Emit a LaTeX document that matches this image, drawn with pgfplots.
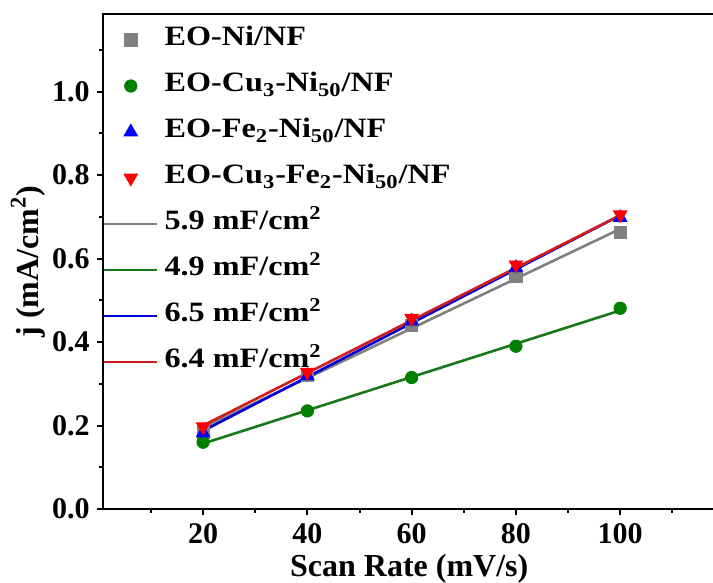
\documentclass[border=0pt]{standalone}
\usepackage{fontspec}
\setmainfont{Liberation Serif}
\newfontfamily\legfont{Liberation Serif}[FakeStretch=1.15]
\usepackage{pgfplots}
\pgfplotsset{compat=1.18}
\definecolor{cgray}{RGB}{128,128,128}
\definecolor{cgreen}{RGB}{0,128,0}
\definecolor{cgreenl}{RGB}{25,120,25}
\definecolor{cblue}{RGB}{0,0,255}
\definecolor{cbluel}{RGB}{0,0,215}
\definecolor{cred}{RGB}{255,0,0}
\definecolor{credl}{RGB}{205,30,30}
\newcommand{\tfnt}{\fontsize{15}{17}\selectfont\bfseries}
\newcommand{\lfnt}{\fontsize{16}{18}\selectfont\bfseries}
\newcommand{\gfnt}{\legfont\fontsize{14}{16}\selectfont\bfseries}
\pgfplotsset{
  lineleg/.style={legend image code/.code={\draw[##1] (0pt,0pt) -- (26.5pt,0pt);}},
  markleg/.style={legend image code/.code={\draw[##1] plot coordinates {(13.25pt,0pt)};}},
}
\begin{document}
\begin{tikzpicture}
\path[use as bounding box] (0,0) rectangle (356.5pt,291.5pt);
\begin{axis}[
  at={(51.5pt,37pt)}, anchor=south west,
  width=306.3pt, height=247.5pt, scale only axis,
  xmin=0.8, xmax=118.3, ymin=0, ymax=1.186,
  xtick={20,40,60,80,100}, minor xtick={10,30,50,70,90,110},
  ytick={0,0.2,0.4,0.6,0.8,1.0}, minor ytick={0.1,0.3,0.5,0.7,0.9,1.1},
  xtick pos=left, ytick pos=left,
  tick align=outside,
  major tick length=3.2pt, minor tick length=1.8pt,
  every tick/.style={black, line width=1pt},
  axis line style={line width=1.3pt},
  /pgf/number format/assume math mode=true,
  tick label style={font=\tfnt},
  yticklabel style={/pgf/number format/.cd, fixed, fixed zerofill, precision=1},
  xticklabel style={inner ysep=1pt, yshift=-2.8pt},
  label style={font=\lfnt},
  xlabel={Scan Rate (mV/s)},
  ylabel={j (mA/cm\textsuperscript{2})},
  xlabel style={at={(axis description cs:0.5,0)}, anchor=center, inner sep=0pt, yshift=-30pt},
  ylabel style={at={(axis description cs:-0.1225,0.5)}, anchor=center},
  legend style={at={(axis description cs:0,1)}, anchor=north west, yshift=-6pt,
    draw=none, fill=none, inner sep=0pt, outer sep=0pt, row sep=9pt, font=\gfnt,
    nodes={inner xsep=3pt, inner ysep=0pt, text height=10pt, text depth=4pt}},
  legend cell align=left,
]
% linear fits
\addplot[cgray, line width=1.3pt, forget plot] coordinates {(20,0.1946) (100,0.6710)};
\addplot[cgreenl, line width=1.3pt, forget plot] coordinates {(20,0.1568) (100,0.4756)};
\addplot[cbluel, line width=1.3pt, forget plot] coordinates {(20,0.1872) (100,0.7036)};
\addplot[credl, line width=1.3pt, forget plot] coordinates {(20,0.2000) (100,0.7036)};
% data
\addplot[markleg, only marks, mark=square*, mark size=3.1pt, color=cgray]
  coordinates {(20,0.185) (40,0.320) (60,0.440) (80,0.557) (100,0.662)};
\addlegendentry{EO-Ni/NF}
\addplot[markleg, only marks, mark=*, mark size=3.1pt, color=cgreen]
  coordinates {(20,0.160) (40,0.235) (60,0.315) (80,0.390) (100,0.481)};
\addlegendentry{EO-Cu\textsubscript{3}-Ni\textsubscript{50}/NF}
\addplot[markleg, only marks, mark=triangle*, mark size=3.9pt, color=cblue]
  coordinates {(20,0.182) (40,0.319) (60,0.450) (80,0.578) (100,0.698)};
\addlegendentry{EO-Fe\textsubscript{2}-Ni\textsubscript{50}/NF}
\addplot[markleg, only marks, mark=triangle*, mark size=3.9pt, mark options={rotate=180}, color=cred]
  coordinates {(20,0.197) (40,0.328) (60,0.457) (80,0.585) (100,0.705)};
\addlegendentry{EO-Cu\textsubscript{3}-Fe\textsubscript{2}-Ni\textsubscript{50}/NF}
\addlegendimage{lineleg, cgray, line width=1.3pt}
\addlegendentry{5.9 mF/cm\textsuperscript{2}}
\addlegendimage{lineleg, cgreenl, line width=1.3pt}
\addlegendentry{4.9 mF/cm\textsuperscript{2}}
\addlegendimage{lineleg, cbluel, line width=1.3pt}
\addlegendentry{6.5 mF/cm\textsuperscript{2}}
\addlegendimage{lineleg, credl, line width=1.3pt}
\addlegendentry{6.4 mF/cm\textsuperscript{2}}
\end{axis}
\end{tikzpicture}
\end{document}
